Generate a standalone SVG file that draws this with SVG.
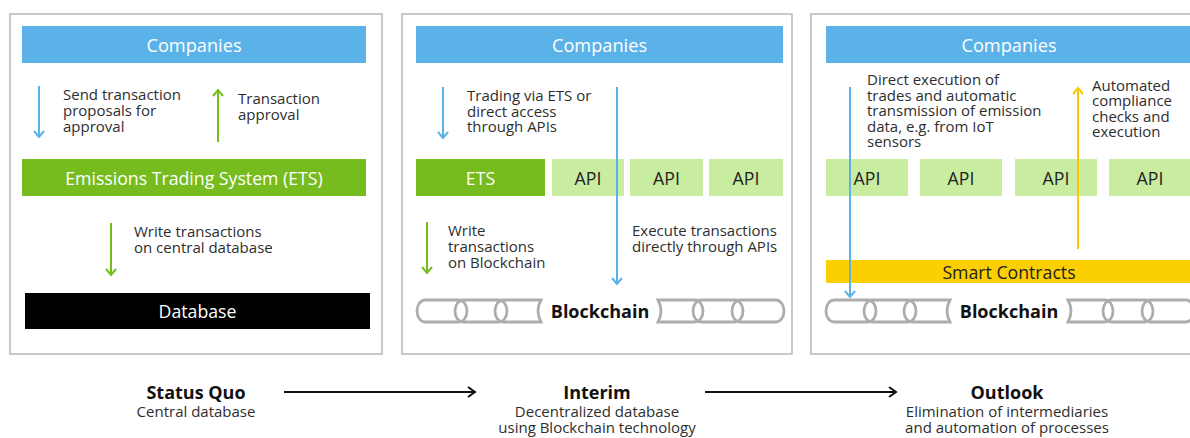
<svg xmlns="http://www.w3.org/2000/svg" width="1190" height="438" viewBox="0 0 1190 438">
<style>
.panel{fill:#fff;stroke:#c9c9c9;stroke-width:2}
.comp{fill:#5bb2e8}
.ets{fill:#77bc1f}
.api{fill:#c8eca0}
.db{fill:#000}
.sc{fill:#fccf00}
.lbl{font-family:"Open Sans","Noto Sans","Liberation Sans",sans-serif;font-size:17.7px;text-anchor:middle;dominant-baseline:central}
.big{font-size:18.2px}
.w{fill:#fff}
.d{fill:#222}
.t{font-family:"Open Sans","Noto Sans","Liberation Sans",sans-serif;font-size:15px;fill:#2e2e2e}
.bc{font-family:"Open Sans","Noto Sans","Liberation Sans",sans-serif;font-size:18px;font-weight:bold;fill:#111;text-anchor:middle;dominant-baseline:central}
.h{font-family:"Open Sans","Noto Sans","Liberation Sans",sans-serif;font-size:18px;font-weight:bold;fill:#111;text-anchor:middle}
.s{font-family:"Open Sans","Noto Sans","Liberation Sans",sans-serif;font-size:15px;fill:#2e2e2e;text-anchor:middle}
.link{fill:none;stroke:#adadad;stroke-width:2.8}
.blue{fill:none;stroke:#5bb2e8;stroke-width:2}
.green{fill:none;stroke:#77bc1f;stroke-width:2}
.yellow{fill:none;stroke:#f7c800;stroke-width:2}
.black{fill:none;stroke:#111;stroke-width:2}
</style>
<defs>
<marker id="mb" viewBox="-8 -7 10 14" markerWidth="10" markerHeight="14" refX="0" refY="0" orient="auto" markerUnits="userSpaceOnUse"><path d="M-6,-5 L0,0 L-6,5" fill="none" stroke="#5bb2e8" stroke-width="2"/></marker>
<marker id="mg" viewBox="-8 -7 10 14" markerWidth="10" markerHeight="14" refX="0" refY="0" orient="auto" markerUnits="userSpaceOnUse"><path d="M-6,-5 L0,0 L-6,5" fill="none" stroke="#77bc1f" stroke-width="2"/></marker>
<marker id="my" viewBox="-8 -7 10 14" markerWidth="10" markerHeight="14" refX="0" refY="0" orient="auto" markerUnits="userSpaceOnUse"><path d="M-6,-5 L0,0 L-6,5" fill="none" stroke="#f7c800" stroke-width="2"/></marker>
<marker id="mk" viewBox="-8 -7 10 14" markerWidth="10" markerHeight="14" refX="0" refY="0" orient="auto" markerUnits="userSpaceOnUse"><path d="M-7,-5 L0,0 L-7,5" fill="none" stroke="#111" stroke-width="2"/></marker>
<g id="chainL">
<rect class="link" x="0" y="0" width="50" height="22" rx="8" ry="11"/>
<rect class="link" x="38" y="0" width="52" height="22" rx="8" ry="11"/>
<path class="link" d="M86,0 H124 Q118,11 124,22 H86 A8,11 0 0 1 86,0 Z"/>
</g>
<g id="chainR">
<path class="link" d="M0,0 Q6,11 0,22 H37 A8,11 0 0 0 37,0 Z"/>
<rect class="link" x="35" y="0" width="50" height="22" rx="8" ry="11"/>
<rect class="link" x="74" y="0" width="52" height="22" rx="8" ry="11"/>
</g>
</defs>

<g id="panel-status-quo">
<rect class="panel" x="10" y="14" width="372" height="340"/>
</g>
<g id="panel-interim">
<rect class="panel" x="402" y="14" width="390" height="340"/>
</g>
<g id="panel-outlook">
<rect class="panel" x="811" y="14" width="400" height="340"/>
</g>

<g id="companies-1"><rect class="comp" x="22" y="26" width="344" height="37"/><text class="lbl big w" x="194" y="44.5">Companies</text></g>
<g id="ets-1"><rect class="ets" x="22" y="159" width="344" height="37"/><text class="lbl w" x="194" y="177.5">Emissions Trading System (ETS)</text></g>
<g id="database-1"><rect class="db" x="25" y="293" width="345" height="36"/><text class="lbl w" x="197.5" y="311">Database</text></g>

<g id="companies-2"><rect class="comp" x="416" y="26" width="367" height="37"/><text class="lbl big w" x="599.5" y="44.5">Companies</text></g>
<g id="ets-2"><rect class="ets" x="416" y="159" width="129" height="37"/><text class="lbl w" x="480.5" y="177.5">ETS</text></g>
<g id="api-2a"><rect class="api" x="552" y="159" width="72" height="37"/><text class="lbl d" x="588" y="177.5">API</text></g>
<g id="api-2b"><rect class="api" x="630" y="159" width="73" height="37"/><text class="lbl d" x="666.5" y="177.5">API</text></g>
<g id="api-2c"><rect class="api" x="709" y="159" width="74" height="37"/><text class="lbl d" x="746" y="177.5">API</text></g>
<g id="blockchain-2"><use href="#chainL" x="417" y="300"/><use href="#chainR" x="658" y="300"/><text class="bc" x="600" y="311">Blockchain</text></g>

<g id="companies-3"><rect class="comp" x="826" y="26" width="367" height="37"/><text class="lbl big w" x="1009" y="44.5">Companies</text></g>
<g id="api-3a"><rect class="api" x="826" y="159" width="82" height="37"/><text class="lbl d" x="867" y="177.5">API</text></g>
<g id="api-3b"><rect class="api" x="920" y="159" width="82" height="37"/><text class="lbl d" x="961" y="177.5">API</text></g>
<g id="api-3c"><rect class="api" x="1015" y="159" width="82" height="37"/><text class="lbl d" x="1056" y="177.5">API</text></g>
<g id="api-3d"><rect class="api" x="1109" y="159" width="82" height="37"/><text class="lbl d" x="1150" y="177.5">API</text></g>
<g id="smart-contracts"><rect class="sc" x="826" y="260" width="367" height="23"/><text class="lbl d" x="1009" y="271.5">Smart Contracts</text></g>
<g id="blockchain-3"><use href="#chainL" x="826" y="300"/><use href="#chainR" x="1068" y="300"/><text class="bc" x="1009" y="311">Blockchain</text></g>

<g id="stage-status-quo"><text class="h" x="196" y="399">Status Quo</text><text class="s" x="196" y="417">Central database</text></g>
<g id="stage-interim"><text class="h" x="597" y="399">Interim</text><text class="s" x="597" y="417">Decentralized database</text><text class="s" x="597" y="433">using Blockchain technology</text></g>
<g id="stage-outlook"><text class="h" x="1007" y="399">Outlook</text><text class="s" x="1007" y="417">Elimination of intermediaries</text><text class="s" x="1007" y="433">and automation of processes</text></g>

<g id="connectors">
<line class="blue" x1="39" y1="86" x2="39" y2="137" marker-end="url(#mb)"/>
<line class="green" x1="218" y1="142" x2="218" y2="90" marker-end="url(#mg)"/>
<line class="green" x1="111" y1="223" x2="111" y2="275" marker-end="url(#mg)"/>
<line class="blue" x1="443" y1="87" x2="443" y2="138" marker-end="url(#mb)"/>
<line class="blue" x1="617" y1="87" x2="617" y2="284" marker-end="url(#mb)"/>
<line class="green" x1="427" y1="222" x2="427" y2="273" marker-end="url(#mg)"/>
<line class="blue" x1="850" y1="87" x2="850" y2="297" marker-end="url(#mb)"/>
<line class="yellow" x1="1078" y1="249" x2="1078" y2="88" marker-end="url(#my)"/>
<line class="black" x1="284" y1="392" x2="475" y2="392" marker-end="url(#mk)"/>
<line class="black" x1="705" y1="392" x2="896" y2="392" marker-end="url(#mk)"/>
</g>

<g id="labels">
<text class="t" x="63" y="100">Send transaction<tspan x="63" y="116">proposals for</tspan><tspan x="63" y="131.5">approval</tspan></text>
<text class="t" x="238" y="104">Transaction<tspan x="238" y="120">approval</tspan></text>
<text class="t" x="134" y="237">Write transactions<tspan x="134" y="253">on central database</tspan></text>
<text class="t" x="467" y="101">Trading via ETS or<tspan x="467" y="117">direct access</tspan><tspan x="467" y="132">through APIs</tspan></text>
<text class="t" x="448" y="236">Write<tspan x="448" y="252">transactions</tspan><tspan x="448" y="268">on Blockchain</tspan></text>
<text class="t" x="632" y="236">Execute transactions<tspan x="632" y="252">directly through APIs</tspan></text>
<text class="t" x="867" y="85">Direct execution of<tspan x="867" y="100.5">trades and automatic</tspan><tspan x="867" y="116">transmission of emission</tspan><tspan x="867" y="131.5">data, e.g. from IoT</tspan><tspan x="867" y="147">sensors</tspan></text>
<text class="t" x="1092" y="90.5">Automated<tspan x="1092" y="106">compliance</tspan><tspan x="1092" y="121.5">checks and</tspan><tspan x="1092" y="137">execution</tspan></text>
</g>
</svg>
